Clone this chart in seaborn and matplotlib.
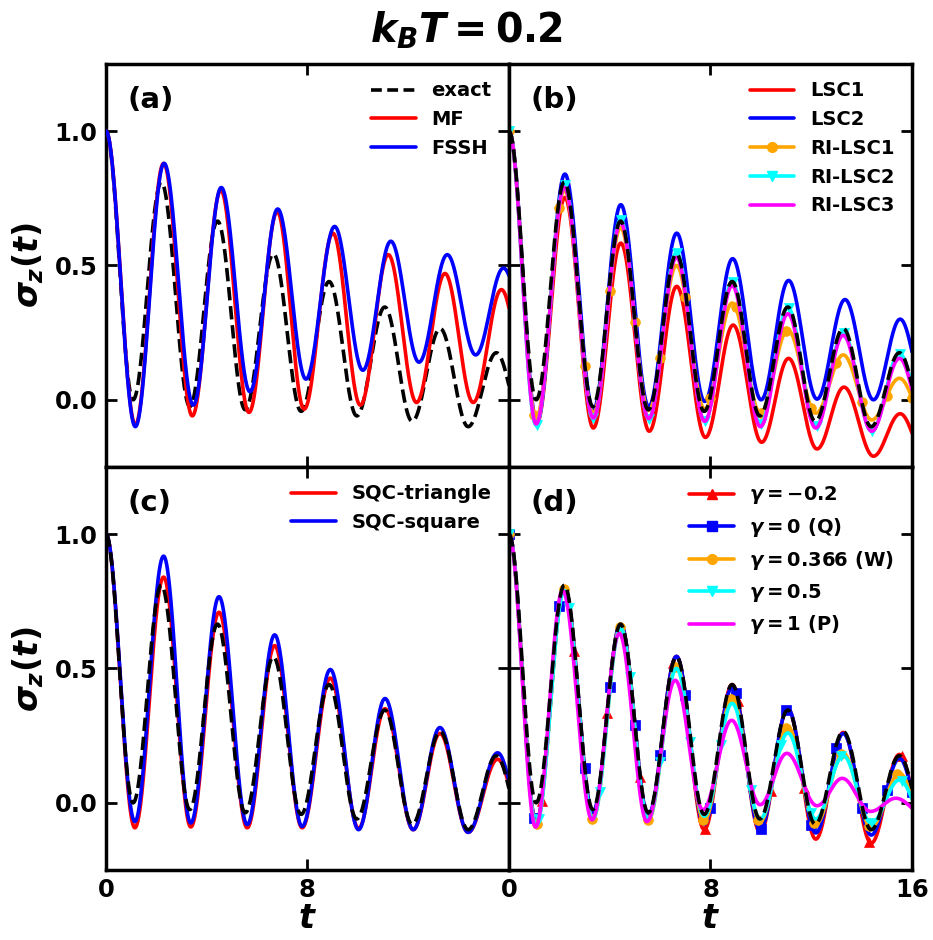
import numpy as np
import matplotlib
matplotlib.use("Agg")
import matplotlib.pyplot as plt
from matplotlib.lines import Line2D
import seaborn as sns

# ---------------- data: extrema (time, value) ----------------
EXACT_T = [0, 1.08, 2.2, 3.33, 4.43, 5.53, 6.65, 7.75, 8.86, 9.96, 11.07, 12.16, 13.27, 14.38, 15.5, 16.6]
EXACT_V = [1.0, 0.0, 0.81, -0.025, 0.665, -0.037, 0.543, -0.043, 0.44, -0.06, 0.345, -0.08, 0.265, -0.1, 0.175, -0.11]

# (a)
MF_T = [0, 1.17, 2.29, 3.43, 4.56, 5.68, 6.80, 7.87, 9.01, 10.1, 11.21, 12.33, 13.46, 14.58, 15.70, 16.82]
MF_V = [1.0, -0.093, 0.88, -0.06, 0.78, -0.047, 0.70, -0.035, 0.62, -0.02, 0.54, -0.01, 0.47, -0.01, 0.41, 0.0]
FSSH_T = [0, 1.17, 2.31, 3.47, 4.58, 5.72, 6.82, 7.94, 9.08, 10.2, 11.31, 12.43, 13.55, 14.68, 15.78, 16.9]
FSSH_V = [1.0, -0.10, 0.88, -0.02, 0.79, 0.03, 0.71, 0.077, 0.645, 0.11, 0.59, 0.14, 0.54, 0.167, 0.49, 0.19]

# (b)
LSC1_T = [0, 1.1, 2.22, 3.35, 4.44, 5.57, 6.66, 7.8, 8.9, 10.03, 11.1, 12.23, 13.3, 14.47, 15.53, 16.6]
LSC1_V = [1.0, -0.09, 0.753, -0.105, 0.583, -0.117, 0.422, -0.14, 0.278, -0.158, 0.154, -0.183, 0.047, -0.21, -0.052, -0.23]
LSC2_T = [0, 1.11, 2.22, 3.35, 4.44, 5.55, 6.66, 7.77, 8.88, 10.01, 11.1, 12.23, 13.34, 14.47, 15.53, 16.6]
LSC2_V = [1.0, -0.08, 0.84, -0.037, 0.726, -0.025, 0.62, -0.006, 0.525, 0.0, 0.444, 0.0025, 0.373, 0.0, 0.30, 0.0]
RI_T = [0, 1.08, 2.2, 3.35, 4.43, 5.55, 6.65, 7.77, 8.86, 9.98, 11.07, 12.18, 13.27, 14.4, 15.5, 16.6]
RILSC1_V = [1.0, -0.07, 0.78, -0.05, 0.64, -0.04, 0.50, -0.035, 0.36, -0.05, 0.26, -0.05, 0.167, -0.075, 0.08, -0.09]
RILSC2_V = [1.0, -0.095, 0.80, -0.07, 0.67, -0.07, 0.548, -0.08, 0.437, -0.09, 0.342, -0.10, 0.25, -0.117, 0.172, -0.12]
RILSC3_V = [1.0, -0.09, 0.79, -0.068, 0.66, -0.07, 0.53, -0.08, 0.425, -0.1, 0.32, -0.105, 0.24, -0.117, 0.154, -0.12]

# (c)
SQC_T = [0, 1.15, 2.29, 3.37, 4.49, 5.61, 6.7, 7.79, 8.91, 10.03, 11.08, 12.2, 13.26, 14.38, 15.55, 16.65]
SQC_TRI_V = [1.0, -0.093, 0.84, -0.09, 0.709, -0.093, 0.585, -0.093, 0.464, -0.095, 0.35, -0.1, 0.258, -0.11, 0.162, -0.11]
SQC_SQ_V = [1.0, -0.07, 0.918, -0.075, 0.767, -0.081, 0.625, -0.088, 0.496, -0.1, 0.388, -0.1, 0.28, -0.11, 0.186, -0.11]

# (d)
G_T = [0, 1.08, 2.2, 3.33, 4.43, 5.53, 6.65, 7.75, 8.86, 9.97, 11.07, 12.18, 13.27, 14.38, 15.5, 16.6]
G_M02_V = [1.0, -0.075, 0.80, -0.04, 0.665, -0.05, 0.545, -0.10, 0.44, -0.11, 0.35, -0.135, 0.262, -0.15, 0.18, -0.16]
G_0_V = [1.0, -0.07, 0.80, -0.035, 0.665, -0.045, 0.545, -0.08, 0.43, -0.1, 0.35, -0.112, 0.258, -0.12, 0.165, -0.13]
G_0366_V = [1.0, -0.08, 0.795, -0.06, 0.655, -0.065, 0.51, -0.067, 0.39, -0.07, 0.283, -0.08, 0.184, -0.09, 0.11, -0.1]
G_05_V = [1.0, -0.085, 0.79, -0.06, 0.65, -0.06, 0.5, -0.05, 0.37, -0.06, 0.26, -0.06, 0.175, -0.075, 0.085, -0.08]
G_1_T = [0, 1.06, 2.13, 3.3, 4.38, 5.48, 6.6, 7.7, 8.84, 9.97, 11.03, 12.23, 13.23, 14.36, 15.36, 16.5]
G_1_V = [1.0, -0.09, 0.79, -0.063, 0.63, -0.07, 0.456, -0.026, 0.307, -0.007, 0.184, -0.011, 0.091, -0.032, 0.017, -0.045]

PANEL_LABELS = ["(a)", "(b)", "(c)", "(d)"]
Y_TICKS = [0.0, 0.5, 1.0]
X_TICKS = [0, 8, 16]

# ---------------- style ----------------
sns.set_style("ticks")
plt.rcParams["font.family"] = ["DejaVu Sans"]
plt.rcParams["font.weight"] = "bold"
plt.rcParams["mathtext.fontset"] = "custom"
plt.rcParams["mathtext.it"] = "DejaVu Sans:italic:bold"
plt.rcParams["mathtext.rm"] = "DejaVu Sans:bold"
plt.rcParams["mathtext.bf"] = "DejaVu Sans:bold"
for key in ("text.color", "axes.labelcolor", "xtick.color", "ytick.color", "axes.edgecolor"):
    plt.rcParams[key] = "black"

RED, BLUE, ORANGE, CYAN, MAGENTA = "#ff0000", "#0000ff", "#ffa500", "#00ffff", "#ff00ff"
LW = 2.6
DASH = (3.0, 1.5)
DT = 0.01
tgrid = np.linspace(0, 16, 1601)


def curve(tk, vk):
    """Smooth rendering through the read extrema (zero slope at each extremum)."""
    tk = np.asarray(tk, float)
    vk = np.asarray(vk, float)
    i = np.clip(np.searchsorted(tk, tgrid, side="right") - 1, 0, len(tk) - 2)
    s = (tgrid - tk[i]) / (tk[i + 1] - tk[i])
    return vk[i] + (vk[i + 1] - vk[i]) * (1 - np.cos(np.pi * s)) / 2


def draw(ax, tk, vk, color, dashed=False, marker=None, every=None, ms=7, z=2):
    y = curve(tk, vk)
    kw = dict(color=color, lw=LW, estimator=None, sort=False, zorder=z, legend=False)
    if dashed:
        kw["dashes"] = DASH
        kw["linestyle"] = "--"
    if marker is not None:
        kw.update(marker=marker, markevery=(0, int(round(every / DT))), ms=ms,
                  mec=color, mfc=color, mew=0.5)
    sns.lineplot(x=tgrid, y=y, ax=ax, **kw)
    # proxy handle for legend (single centered marker)
    if dashed:
        return Line2D([], [], color=color, lw=LW, linestyle="--", dashes=DASH)
    return Line2D([], [], color=color, lw=LW, marker=marker, ms=ms, mec=color, mfc=color)


fig, axes = plt.subplots(2, 2, figsize=(9.33, 9.40), dpi=100)
fig.subplots_adjust(left=0.1135, right=0.9775, top=0.932, bottom=0.0745, wspace=0, hspace=0)
(axa, axb), (axc, axd) = axes

# (a)
ha = [draw(axa, EXACT_T, EXACT_V, "black", dashed=True, z=2),
      draw(axa, MF_T, MF_V, RED, z=3),
      draw(axa, FSSH_T, FSSH_V, BLUE, z=4)]

# (b)
hb = [
    draw(axb, LSC1_T, LSC1_V, RED),
    draw(axb, LSC2_T, LSC2_V, BLUE),
    draw(axb, RI_T, RILSC1_V, ORANGE, marker="o", every=1.0),
    draw(axb, RI_T, RILSC2_V, CYAN, marker="v", every=1.11),
    draw(axb, RI_T, RILSC3_V, MAGENTA),
]
draw(axb, EXACT_T, EXACT_V, "black", dashed=True, z=5)

# (c)
hc = [draw(axc, SQC_T, SQC_TRI_V, RED), draw(axc, SQC_T, SQC_SQ_V, BLUE)]
draw(axc, EXACT_T, EXACT_V, "black", dashed=True, z=5)

# (d)
hd = [
    draw(axd, G_T, G_M02_V, RED, marker="^", every=1.3),
    draw(axd, G_T, G_0_V, BLUE, marker="s", every=1.0, ms=6.5),
    draw(axd, G_T, G_0366_V, ORANGE, marker="o", every=1.105),
    draw(axd, G_T, G_05_V, CYAN, marker="v", every=1.2),
    draw(axd, G_1_T, G_1_V, MAGENTA),
]
draw(axd, EXACT_T, EXACT_V, "black", dashed=True, z=5)

legend_data = [(ha, ["exact", "MF", "FSSH"]),
               (hb, ["LSC1", "LSC2", "RI-LSC1", "RI-LSC2", "RI-LSC3"]),
               (hc, ["SQC-triangle", "SQC-square"]),
               (hd, [r"$\gamma=-0.2$", r"$\gamma=0$ (Q)", r"$\gamma=0.366$ (W)",
                     r"$\gamma=0.5$", r"$\gamma=1$ (P)"])]

for k, ax in enumerate(axes.flat):
    ax.set_xlim(0, 16)
    ax.set_ylim(-0.25, 1.25)
    ax.set_xticks(X_TICKS)
    ax.set_yticks(Y_TICKS)
    ax.tick_params(direction="in", top=True, right=True, length=8, width=2,
                   labelsize=17.5, pad=6, colors="black")
    for sp in ax.spines.values():
        sp.set_linewidth(2.5)
        sp.set_color("black")
    ax.text(0.054, 0.91, PANEL_LABELS[k], transform=ax.transAxes, fontsize=21,
            fontweight="bold", va="center", ha="left")
    ax.set_xlabel("")
    ax.set_ylabel("")
    hs, ls = legend_data[k]
    ax.legend(hs, ls, loc="upper right", frameon=False, fontsize=14,
              handlelength=2.3, borderaxespad=0.5, labelspacing=0.5)

for ax in (axa, axb):
    ax.set_xticklabels([])
for ax in (axb, axd):
    ax.set_yticklabels([])
for ax in (axa, axc):
    ax.set_yticklabels(["0.0", "0.5", "1.0"])
    ax.set_ylabel(r"$\sigma_z(t)$", fontsize=24, labelpad=6)
axc.set_xticklabels(["0", "8", ""])
axd.set_xticklabels(["0", "8", "16"])
for ax in (axc, axd):
    ax.set_xlabel(r"$t$", fontsize=24, labelpad=0)

fig.suptitle(r"$k_BT=0.2$", fontsize=28.5, y=0.99)
fig.savefig("out.png", dpi=100)
